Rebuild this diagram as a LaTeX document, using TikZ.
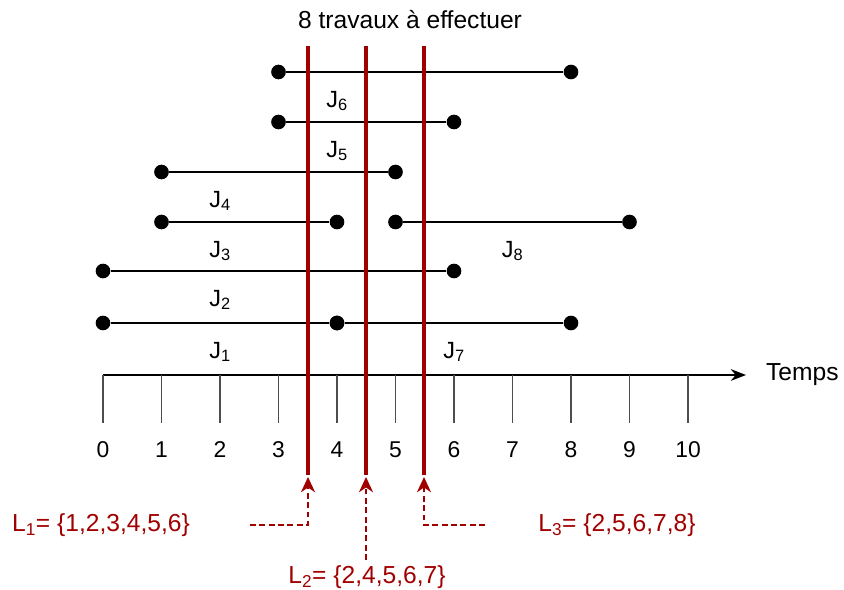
\documentclass[tikz,border=0pt]{standalone}
\usepackage{fontspec}
\setmainfont{Liberation Sans}
\usetikzlibrary{arrows.meta,positioning,calc}
\definecolor{CutRed}{HTML}{A00000}
\definecolor{TickGray}{HTML}{4D4D4D}
\tikzstyle{JobEnd} =[circle,fill=black,inner sep=0pt,minimum size=0.44cm]
\tikzstyle{JobLine} =[line width=2pt,draw=black]
\tikzstyle{JobLabel} =[font=\fontsize{20}{23}\selectfont]
\tikzstyle{CutLine} =[line width=3.4pt,draw=CutRed]
\tikzstyle{CutArrow} =[draw=CutRed,line width=1.3pt,dash pattern=on 5pt off 3pt,-{Stealth[length=13pt,width=12pt,inset=4pt,fill=CutRed]}]
\tikzstyle{SetLabel} =[text=CutRed,font=\fontsize{21}{25}\selectfont]
\tikzstyle{TickLabel} =[font=\fontsize{19.5}{22}\selectfont]
\begin{document}
\begin{tikzpicture}[x=0.03cm,y=-0.03cm]
\useasboundingbox (0,0) rectangle (844,589);
% title
\node[font=\fontsize{21}{25}\selectfont](Title) at (410,20){8 travaux à effectuer};
% time axis
\coordinate (Origin) at (103,375);
\coordinate (AxisEnd) at (746,375);
\draw[line width=1.3pt,-{Stealth[length=13pt,width=10pt]}] (Origin) -- (AxisEnd);
\node[anchor=west,font=\fontsize{21}{25}\selectfont](Temps) at (762,375){Temps};
\foreach \t in {0,...,10}{
\coordinate (Tick-\t) at ({103+58.5*\t},375);
\coordinate (TickEnd-\t) at ({103+58.5*\t},423);
\draw[line width=1.3pt,draw=TickGray] (Tick-\t) -- (TickEnd-\t);
\node[TickLabel](TickLabel-\t) at ({103+58.5*\t},450){\t};
}
% jobs
\foreach \j/\a/\b/\y/\l in {1/0/4/323/2,7/4/8/323/6,2/0/6/271/2,3/1/4/222/2,8/5/9/222/7,4/1/5/172/2,5/3/6/122/4,6/3/8/72/4}{
\node[JobEnd](Job-\j-start) at ({103+58.5*\a},\y){};
\node[JobEnd](Job-\j-end) at ({103+58.5*\b},\y){};
\draw[JobLine] (Job-\j-start) -- (Job-\j-end);
\node[JobLabel](Job-\j-label) at ({103+58.5*\l},{\y+29}){J\textsubscript{\j}};
}
% cuts
\foreach \c/\x in {1/308,2/366,3/424}{
\coordinate (Cut-\c-top) at (\x,46);
\coordinate (Cut-\c-bottom) at (\x,475);
\coordinate (Cut-\c-tip) at (\x,477);
\draw[CutLine] (Cut-\c-top) -- (Cut-\c-bottom);
}
\node[SetLabel](Set-1) at (101,525){L\textsubscript{1}= \{1,2,3,4,5,6\}};
\node[SetLabel](Set-2) at (367,577){L\textsubscript{2}= \{2,4,5,6,7\}};
\node[SetLabel](Set-3) at (617,525){L\textsubscript{3}= \{2,5,6,7,8\}};
\coordinate (Set-1-from) at (250,525);
\coordinate (Set-2-from) at (366,560);
\coordinate (Set-3-from) at (485,525);
\draw[CutArrow] (Set-1-from) -| (Cut-1-tip);
\draw[CutArrow] (Set-2-from) -- (Cut-2-tip);
\draw[CutArrow] (Set-3-from) -| (Cut-3-tip);
\end{tikzpicture}
\end{document}
